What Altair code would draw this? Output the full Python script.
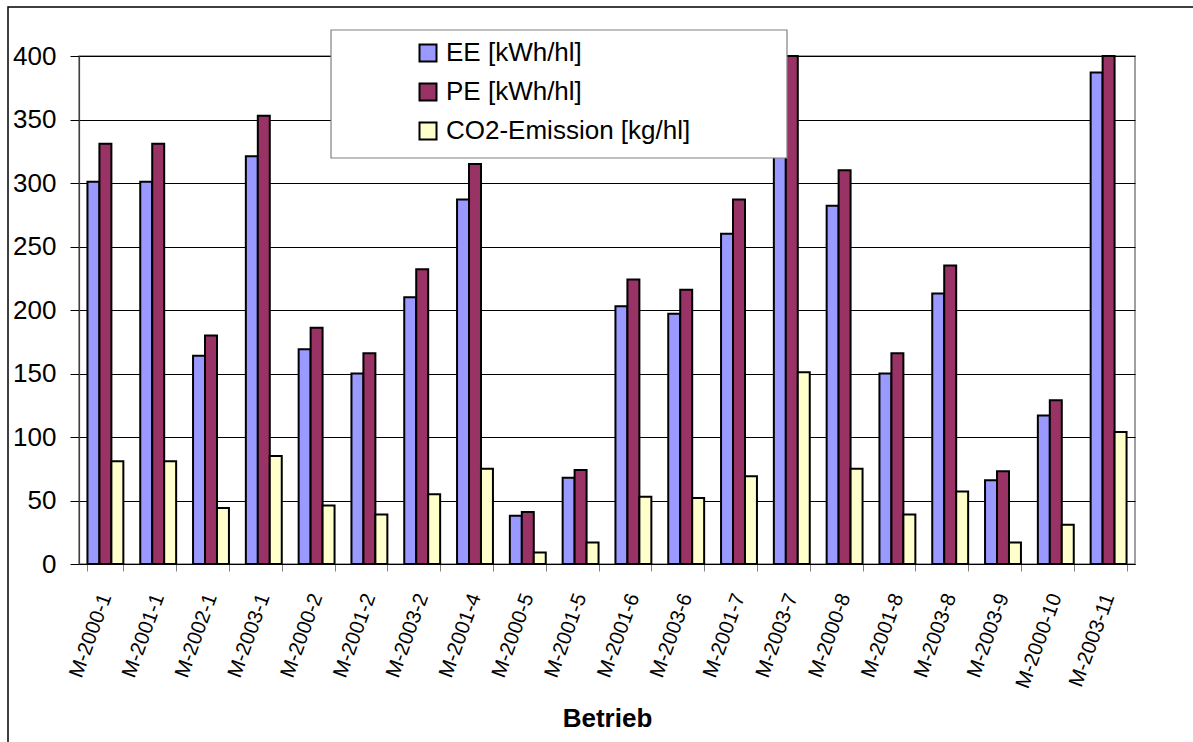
import altair as alt
import pandas as pd

# Betriebe (x categories)
betriebe = [
    "M-2000-1", "M-2001-1", "M-2002-1", "M-2003-1", "M-2000-2", "M-2001-2",
    "M-2003-2", "M-2001-4", "M-2000-5", "M-2001-5", "M-2001-6", "M-2003-6",
    "M-2001-7", "M-2003-7", "M-2000-8", "M-2001-8", "M-2003-8", "M-2003-9",
    "M-2000-10", "M-2003-11",
]

# Elektrische Energie [kWh/hl]
ee = [301, 301, 164, 321, 169, 150, 210, 287, 38, 68,
      203, 197, 260, 370, 282, 150, 213, 66, 117, 387]
# Primaerenergie [kWh/hl]
pe = [331, 331, 180, 353, 186, 166, 232, 315, 41, 74,
      224, 216, 287, 407, 310, 166, 235, 73, 129, 425]
# CO2-Emission [kg/hl]
co2 = [81, 81, 44, 85, 46, 39, 55, 75, 9, 17,
       53, 52, 69, 151, 75, 39, 57, 17, 31, 104]

series = ["EE [kWh/hl]", "PE [kWh/hl]", "CO2-Emission [kg/hl]"]
colors = ["#9999FF", "#993366", "#FFFFCC"]

rows = []
for name, vals in zip(series, [ee, pe, co2]):
    for b, v in zip(betriebe, vals):
        rows.append({"Betrieb": b, "Reihe": name, "Wert": v})
df = pd.DataFrame(rows)

FONT = "Liberation Sans"

bars = alt.Chart(df).mark_bar(stroke="black", strokeWidth=2).encode(
    x=alt.X(
        "Betrieb:N",
        sort=betriebe,
        scale=alt.Scale(paddingInner=0.32, paddingOuter=0.16),
        axis=alt.Axis(
            title="Betrieb",
            titleFont=FONT,
            titleFontSize=26,
            titleFontWeight="bold",
            titleColor="black",
            titleY=162,
            titleBaseline="alphabetic",
            labelAngle=290,
            labelAlign="right",
            labelBaseline="middle",
            labelFont=FONT,
            labelFontSize=20.5,
            labelColor="black",
            labelPadding=23,
            labelLimit=300,
            tickBand="extent",
            tickSize=7,
            tickColor="#808080",
            domainColor="black",
            domainWidth=1.2,
            grid=False,
        ),
    ),
    xOffset=alt.XOffset("Reihe:N", sort=series,
                        scale=alt.Scale(paddingInner=0, paddingOuter=0)),
    y=alt.Y(
        "Wert:Q",
        scale=alt.Scale(domain=[0, 400], clamp=True, nice=False),
        axis=alt.Axis(
            title=None,
            values=list(range(0, 401, 50)),
            labelFont=FONT,
            labelFontSize=26,
            labelColor="black",
            labelPadding=14,
            tickSize=9,
            tickColor="black",
            domainColor="#404040",
            domainWidth=1.2,
            grid=True,
            gridColor="black",
            gridWidth=1,
        ),
    ),
    fill=alt.Fill(
        "Reihe:N",
        sort=series,
        scale=alt.Scale(domain=series, range=colors),
        legend=alt.Legend(
            title=None,
            orient="none",
            legendX=336,
            legendY=-16,
            symbolType="square",
            symbolSize=289,
            symbolStrokeColor="black",
            symbolStrokeWidth=2,
            symbolFillColor="white",
            labelFont=FONT,
            labelFontSize=26,
            labelColor="black",
            labelOffset=5,
            labelLimit=400,
            rowPadding=13,
            padding=0,
        ),
    ),
)

one = pd.DataFrame({"k": [0]})

# Legend frame drawn over the bars
legend_box = alt.Chart(one).mark_rect(
    fill="white", stroke="#808080", strokeWidth=1.2
).encode(
    x=alt.value(252), x2=alt.value(708),
    y=alt.value(-26), y2=alt.value(102),
)

# Outer chart border
frame = alt.Chart(one).mark_rect(
    fill=None, stroke="black", strokeWidth=1.5
).encode(
    x=alt.value(-71), x2=alt.value(1130),
    y=alt.value(-49), y2=alt.value(700),
)

chart = alt.layer(frame, bars, legend_box).properties(
    width=1056,
    height=508,
    padding={"left": 79, "top": 56, "right": 58, "bottom": 178},
    autosize=alt.AutoSizeParams(type="none"),
    background="white",
).configure_view(
    stroke="#808080", strokeWidth=1.5
)

chart.save("out.html", embed_options={"renderer": "svg", "actions": False})
